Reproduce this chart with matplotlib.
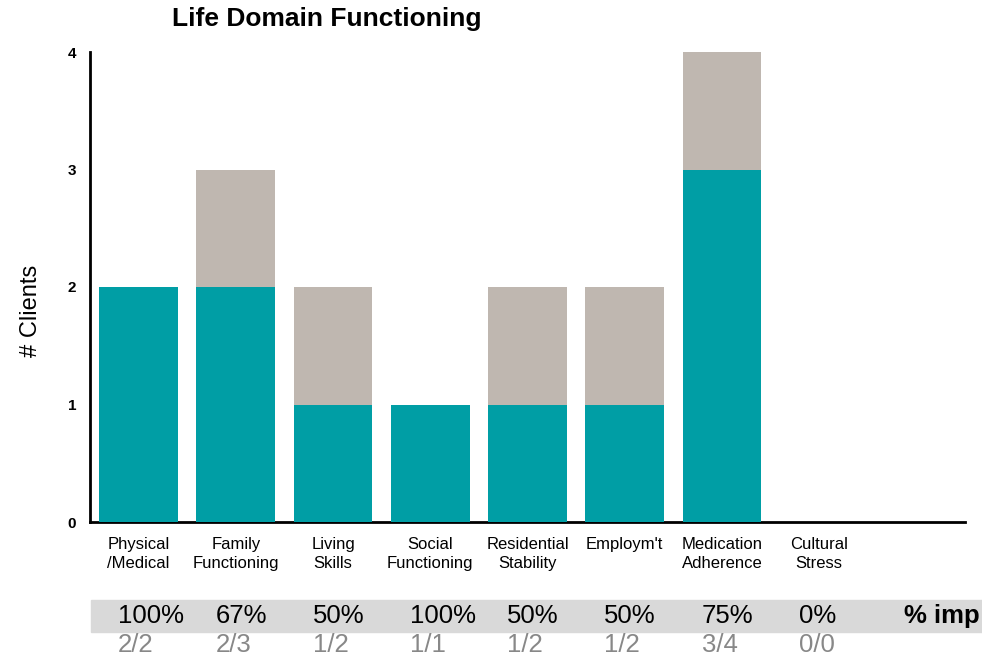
import numpy as np
import matplotlib
matplotlib.use("Agg")
from matplotlib import pyplot as plt
from matplotlib.patches import Rectangle

plt.rcParams['font.family'] = ['Liberation Sans', 'DejaVu Sans']

# data
domains = ["Physical\n/Medical", "Family\nFunctioning", "Living\nSkills",
           "Social\nFunctioning", "Residential\nStability", "Employm't",
           "Medication\nAdherence", "Cultural\nStress"]
improved = [2, 2, 1, 1, 1, 1, 3, 0]
total = [2, 3, 2, 1, 2, 2, 4, 0]

TEAL = "#009ea5"
BEIGE = "#bfb7b0"

fig = plt.figure(figsize=(9.82, 6.70), dpi=100)
ax = fig.add_axes([90/982, 1 - 522/670, (965 - 90)/982, (522 - 52)/670])

x = np.arange(len(domains))
ax.bar(x, total, width=0.81, color=BEIGE, zorder=2)
ax.bar(x, improved, width=0.81, color=TEAL, zorder=3)

ax.set_xlim(-0.5, 8.5)
ax.set_ylim(0, 4)
ax.set_yticks([0, 1, 2, 3, 4])
ax.set_yticklabels(["0", "1", "2", "3", "4"], fontsize=11, fontweight="bold")
ax.tick_params(axis="y", length=0, pad=10)
ax.tick_params(axis="x", length=0, pad=11)
ax.set_xticks(x)
ax.set_xticklabels(domains, fontsize=12, linespacing=1.3)

for side in ("top", "right"):
    ax.spines[side].set_visible(False)
for side in ("left", "bottom"):
    ax.spines[side].set_linewidth(2)
    ax.spines[side].set_color("black")

ax.set_ylabel("# Clients", fontsize=17)
ax.yaxis.set_label_coords(-0.055, 0.45)

fig.text(327/982, 1 - 19/670, "Life Domain Functioning", fontsize=19,
         fontweight="bold", ha="center", va="center")

# summary table under the chart
fig.patches.append(Rectangle((91/982, 1 - 632/670), 1, 32/670,
                             transform=fig.transFigure, color="#d9d9d9",
                             zorder=0))
trans = matplotlib.transforms.blended_transform_factory(ax.transData,
                                                       fig.transFigure)
for i in range(len(domains)):
    pct = 100 * improved[i] / total[i] if total[i] else 0
    fig.text(i - 0.21, 1 - 616/670, "%d%%" % round(pct), fontsize=18.5,
             ha="left", va="center", transform=trans)
    fig.text(i - 0.21, 1 - 645/670, "%d/%d" % (improved[i], total[i]),
             fontsize=18.5, ha="left", va="center", color="#888888",
             transform=trans)
fig.text(980/982, 1 - 616/670, "% imp", fontsize=18.5, fontweight="bold",
         ha="right", va="center")

fig.savefig("out.png", dpi=100)
